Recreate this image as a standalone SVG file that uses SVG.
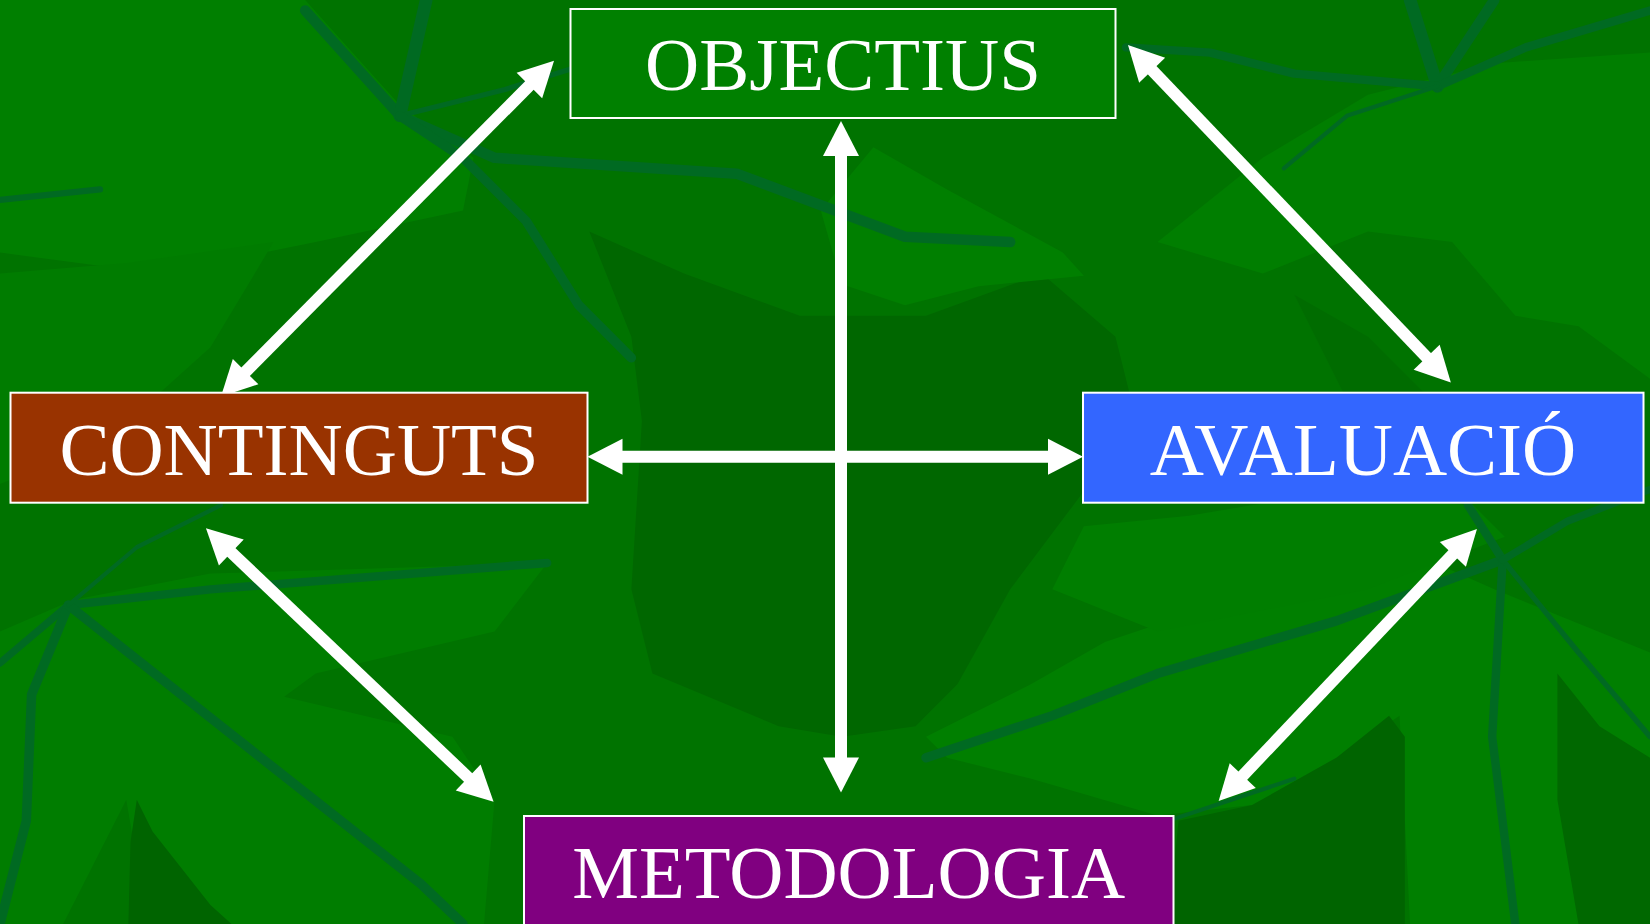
<svg xmlns="http://www.w3.org/2000/svg" width="1650" height="924" viewBox="0 0 1650 924">
<defs>
<style>
.box{stroke:#ffffff;stroke-width:2}
.lbl{font-family:"Liberation Serif","Times New Roman",serif;font-size:75px;fill:#ffffff;text-anchor:middle}
.conn{stroke:#ffffff;stroke-width:12;fill:none;marker-start:url(#ah);marker-end:url(#ah)}
.vein{fill:none;stroke:#006a22;stroke-linejoin:round;stroke-linecap:round}
</style>
<marker id="ah" markerUnits="userSpaceOnUse" markerWidth="35" markerHeight="36" viewBox="0 0 35 36" refX="5" refY="18" orient="auto-start-reverse" overflow="visible">
<path d="M0,0 L35,18 L0,36 z" fill="#ffffff"/>
</marker>
</defs>

<g id="background">
<rect x="0" y="0" width="1650" height="924" fill="#007300"/>
<g transform="scale(1.0523,1.0524)">
<polygon fill="#007f00" points="0,0 290,0 380,100 450,150 440,200 300,230 150,260 0,240"/>
<polygon fill="#007c00" points="0,260 120,250 260,230 200,330 100,420 0,460"/>
<polygon fill="#006700" points="560,220 650,260 760,300 880,300 990,260 1060,320 1080,400 1020,480 960,560 910,650 870,690 800,700 740,690 620,640 600,560 610,400 600,320"/>
<polygon fill="#007f00" points="830,140 900,180 1010,240 1030,262 930,272 860,290 800,270 780,200"/>
<polygon fill="#007d00" points="0,600 70,570 200,545 520,535 470,600 300,640 270,662 430,700 470,760 460,878 140,878 120,760 60,878 0,878"/>
<polygon fill="#006400" points="130,760 145,790 200,860 220,878 122,878 124,800"/>
<polygon fill="#007f00" points="880,700 980,650 1050,610 1200,560 1330,520 1420,560 1568,620 1568,878 1340,878 1330,680 1270,720 1190,765 1100,775 980,740 900,720"/>
<polygon fill="#006400" points="1120,780 1190,765 1270,720 1320,680 1335,700 1335,878 1110,878"/>
<polygon fill="#007e00" points="1030,500 1130,490 1250,470 1400,480 1430,510 1300,560 1100,600 1000,560"/>
<polygon fill="#007e00" points="1100,230 1200,150 1300,90 1420,60 1568,50 1568,360 1500,310 1440,300 1380,230 1300,220 1200,260"/>
<polygon fill="#006c00" points="1230,280 1300,320 1360,380 1400,440 1330,440 1280,380"/>
<polygon fill="#006800" points="1480,640 1520,690 1568,720 1568,878 1500,878 1480,760"/>
<polyline class="vein" stroke-width="10" points="290,10 380,110 470,150 700,165 860,225 960,230"/>
<polyline class="vein" stroke-width="12" points="405,0 380,110"/>
<polyline class="vein" stroke-width="5" points="380,110 480,85 560,60"/>
<polyline class="vein" stroke-width="9" points="380,110 440,150 500,210 550,290 600,340"/>
<polyline class="vein" stroke-width="6" points="0,190 95,180"/>
<polyline class="vein" stroke-width="8" points="65,575 200,560 520,535"/>
<polyline class="vein" stroke-width="7" points="65,575 0,630"/>
<polyline class="vein" stroke-width="9" points="65,575 30,660 25,780 0,878"/>
<polyline class="vein" stroke-width="9" points="65,575 210,690 400,840 440,878"/>
<polyline class="vein" stroke-width="4" points="65,575 130,520 210,480"/>
<polyline class="vein" stroke-width="9" points="1428,532 1270,590 1100,640 1000,680 880,720"/>
<polyline class="vein" stroke-width="8" points="1428,532 1395,480"/>
<polyline class="vein" stroke-width="8" points="1428,532 1418,700 1440,878"/>
<polyline class="vein" stroke-width="5" points="1428,532 1500,620 1568,700"/>
<polyline class="vein" stroke-width="7" points="1428,532 1490,495 1568,465"/>
<polyline class="vein" stroke-width="4" points="1110,780 1230,740"/>
<polyline class="vein" stroke-width="12" points="1366,82 1340,0"/>
<polyline class="vein" stroke-width="10" points="1366,82 1420,0"/>
<polyline class="vein" stroke-width="8" points="1366,82 1450,45 1568,10"/>
<polyline class="vein" stroke-width="8" points="1366,82 1230,70 1150,50 1070,45"/>
<polyline class="vein" stroke-width="4" points="1366,82 1280,110 1220,160"/>
</g>
</g>

<g id="connectors">
<line class="conn" x1="841" y1="151" x2="841" y2="762.5"/>
<line class="conn" x1="617.5" y1="456.8" x2="1053" y2="456.8"/>
<line class="conn" x1="532.9" y1="82" x2="242.1" y2="375.2"/>
<line class="conn" x1="1148.7" y1="66.7" x2="1430.1" y2="360.8"/>
<line class="conn" x1="227.7" y1="549" x2="471.8" y2="781"/>
<line class="conn" x1="1456.3" y1="550.7" x2="1239.3" y2="779.3"/>
</g>

<g id="node-objectius">
<rect class="box" x="570.5" y="9" width="545" height="109" fill="#008000"/>
<text class="lbl" x="843" y="90">OBJECTIUS</text>
</g>
<g id="node-continguts">
<rect class="box" x="10.5" y="392.7" width="577" height="110" fill="#993300"/>
<text class="lbl" x="299" y="475">CONTINGUTS</text>
</g>
<g id="node-avaluacio">
<rect class="box" x="1083" y="392.7" width="560.5" height="110" fill="#3366ff"/>
<text class="lbl" x="1363" y="475">AVALUACIÓ</text>
</g>
<g id="node-metodologia">
<rect class="box" x="524" y="816" width="649.5" height="120" fill="#800080"/>
<text class="lbl" x="848.7" y="898">METODOLOGIA</text>
</g>
</svg>
